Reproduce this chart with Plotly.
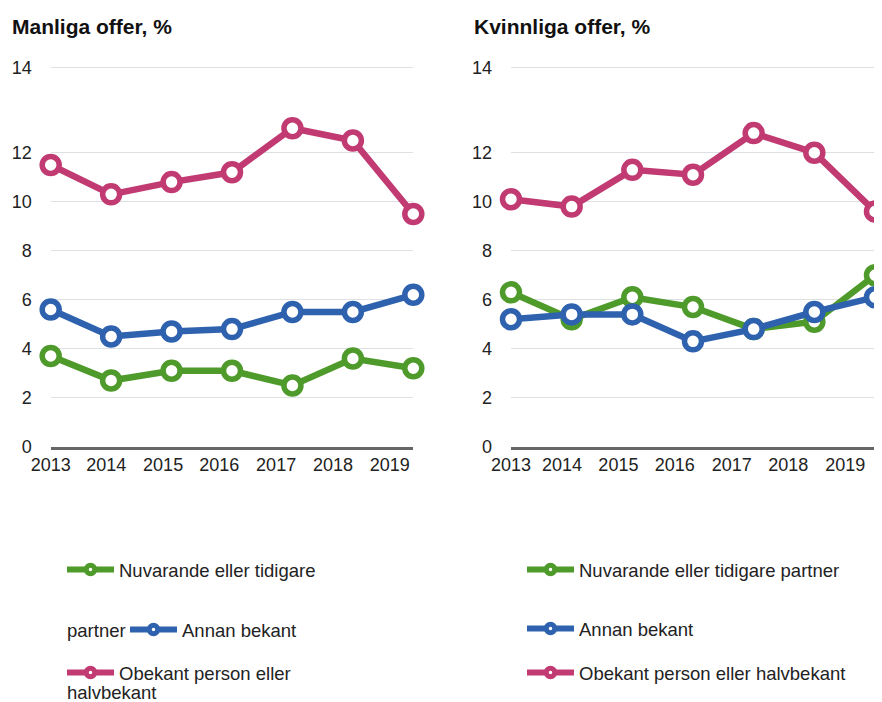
import plotly.graph_objects as go

years = [2013, 2014, 2015, 2016, 2017, 2018, 2019]
year_labels = ["2013", "2014", "2015", "2016", "2017", "2018", "2019"]
y_tick_labels = ["0", "2", "4", "6", "8", "10", "12", "14"]

men_partner = [3.7, 2.7, 3.1, 3.1, 2.5, 3.6, 3.2]
men_bekant = [5.6, 4.5, 4.7, 4.8, 5.5, 5.5, 6.2]
men_obekant = [11.5, 10.3, 10.8, 11.2, 13.0, 12.5, 9.5]

women_partner = [6.3, 5.2, 6.1, 5.7, 4.8, 5.1, 7.0]
women_bekant = [5.2, 5.4, 5.4, 4.3, 4.8, 5.5, 6.1]
women_obekant = [10.1, 9.8, 11.3, 11.1, 12.8, 12.0, 9.6]

# layout: where the reference draws its tick labels / gridlines (in axis units)
x_label_pos_left = [2013.0, 2013.92, 2014.86, 2015.79, 2016.73, 2017.67, 2018.61]
x_label_pos_right = [2013.0, 2013.84, 2014.77, 2015.70, 2016.64, 2017.57, 2018.51]
y_grid_pos = [0, 2, 4, 6, 8, 10, 12, 15.49]

GREEN = "#4E9A2B"
BLUE = "#2F62AE"
PINK = "#C13B72"
FONT = "Liberation Sans, Arial, sans-serif"

# the page body has an 8px margin; the figure is placed so that it fills
# the 882x702 window from (8, 8)
OFF = 8
W, H = 882 - OFF, 702 - OFF

fig = go.Figure()


def add(x, y, color, xa, ya):
    fig.add_trace(go.Scatter(
        x=x, y=y, mode="lines+markers", showlegend=False,
        line=dict(color=color, width=6.5),
        marker=dict(symbol="circle", size=17, color="white",
                    line=dict(color=color, width=5.5)),
        xaxis=xa, yaxis=ya, cliponaxis=False,
    ))


def add_key(name, color, xa, ya, legend):
    fig.add_trace(go.Scatter(
        x=[None], y=[None], mode="lines+markers", name=name,
        line=dict(color=color, width=6),
        marker=dict(symbol="circle", size=8.5, color="white",
                    line=dict(color=color, width=5)),
        xaxis=xa, yaxis=ya, legend=legend, showlegend=True,
    ))


add(years, men_partner, GREEN, "x", "y")
add(years, men_bekant, BLUE, "x", "y")
add(years, men_obekant, PINK, "x", "y")
add(years, women_partner, GREEN, "x2", "y2")
add(years, women_bekant, BLUE, "x2", "y2")
add(years, women_obekant, PINK, "x2", "y2")

add_key("Nuvarande eller tidigare", GREEN, "x", "y", "legend")
add_key("Annan bekant", BLUE, "x", "y", "legend2")
add_key("Obekant person eller", PINK, "x", "y", "legend3")
add_key("Nuvarande eller tidigare partner", GREEN, "x2", "y2", "legend4")
add_key("Annan bekant", BLUE, "x2", "y2", "legend5")
add_key("Obekant person eller halvbekant", PINK, "x2", "y2", "legend6")


def px_x(v):
    return (v - OFF) / W


def px_y(v):
    return 1 - (v - OFF) / H


Y_TOP = 15.55
y_dom = [px_y(446.7), px_y(446.7 - Y_TOP * 24.5)]

xcommon = dict(
    range=[2013, 2019], ticktext=year_labels,
    showgrid=False, zeroline=False, showline=True, linecolor="#666666",
    linewidth=3, ticks="", tickfont=dict(size=18, color="#222222", family=FONT),
    fixedrange=True,
)
ycommon = dict(
    range=[0, Y_TOP], tickvals=y_grid_pos, ticktext=y_tick_labels,
    showgrid=True, gridcolor="#dde1e4", gridwidth=1, zeroline=False,
    showline=False, ticks="", ticklabelstandoff=18,
    tickfont=dict(size=18, color="#222222", family=FONT), fixedrange=True,
    domain=y_dom,
)

fig.update_layout(
    width=W, height=H,
    margin=dict(l=0, r=0, t=0, b=0, autoexpand=False),
    paper_bgcolor="white", plot_bgcolor="white",
    font=dict(family=FONT, size=18, color="#222222"),
    xaxis=dict(domain=[px_x(50.7), px_x(413.3)], anchor="y",
               tickvals=x_label_pos_left, **xcommon),
    yaxis=dict(anchor="x", **ycommon),
    xaxis2=dict(domain=[px_x(511), px_x(875)], anchor="y2",
                tickvals=x_label_pos_right, **xcommon),
    yaxis2=dict(anchor="x2", **ycommon),
)


def leg(x, y):
    return dict(x=px_x(x), y=px_y(y), xanchor="left", yanchor="middle",
                orientation="v", bgcolor="rgba(0,0,0,0)", itemwidth=47,
                font=dict(size=18.5, color="#222222", family=FONT),
                itemclick=False, itemdoubleclick=False)


fig.update_layout(
    legend=leg(62, 570),
    legend2=leg(125, 630),
    legend3=leg(62, 673),
    legend4=leg(522, 570),
    legend5=leg(522, 629),
    legend6=leg(522, 673),
)

annots = [
    dict(text="<b>Manliga offer, %</b>", x=px_x(10), y=px_y(26), font=dict(size=21, color="#111111")),
    dict(text="<b>Kvinnliga offer, %</b>", x=px_x(472), y=px_y(26), font=dict(size=21, color="#111111")),
    dict(text="partner", x=px_x(65), y=px_y(630), font=dict(size=18.5, color="#222222")),
    dict(text="halvbekant", x=px_x(65), y=px_y(692), font=dict(size=18.5, color="#222222")),
]
for a in annots:
    fig.add_annotation(xref="paper", yref="paper", xanchor="left", yanchor="middle",
                       showarrow=False, **a)

fig.write_html("out.html")
